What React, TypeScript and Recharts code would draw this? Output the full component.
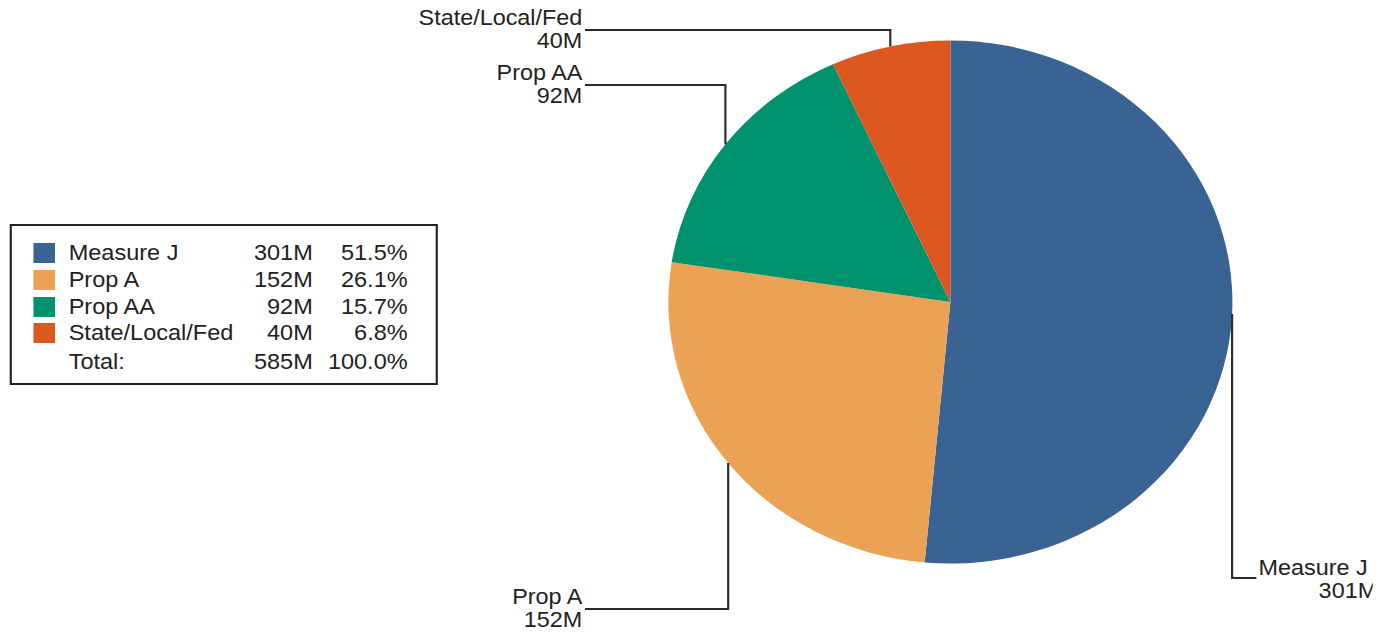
import React from 'react'
import { PieChart, Pie, Cell } from 'recharts'

// values (millions)
const categories = ['Measure J', 'Prop A', 'Prop AA', 'State/Local/Fed']
const amounts = [301, 152, 92, 40]
const amountLabels = ['301M', '152M', '92M', '40M']
const shareLabels = ['51.5%', '26.1%', '15.7%', '6.8%']
const totalLabel = '585M'
const totalShare = '100.0%'
const colors = ['#386392', '#eca254', '#00916e', '#dd5820']

const data = categories.map((name, i) => ({ name, value: amounts[i] }))

// the reference image is stretched horizontally, so the whole chart is drawn narrower and scaled
const STRETCH = 1.0784
const FONT = "'Liberation Sans', Arial, Helvetica, sans-serif"
const RADIAN = Math.PI / 180
const LABEL_SIZE = 21.7

// y of the elbow for each leader line, and which side the label sits on
const leaderY = [578, 609, 85, 30]
const leaderSide = ['right', 'left', 'left', 'left']
const LEFT_END = 542.5
const RIGHT_END = 1165

const renderLabel = (props: any) => {
  const { cx, cy, midAngle, outerRadius, index } = props
  const x = cx + outerRadius * Math.cos(-midAngle * RADIAN)
  const y = cy + outerRadius * Math.sin(-midAngle * RADIAN)
  const ly = leaderY[index]
  const left = leaderSide[index] === 'left'
  const endX = left ? LEFT_END : RIGHT_END

  return (
    <g>
      <polyline
        points={`${x},${y} ${x},${ly} ${endX},${ly}`}
        fill="none"
        stroke="#2a2a2a"
        strokeWidth={2}
      />
      {left ? (
        <>
          <text x={540} y={ly - 4.5} textAnchor="end" fontSize={LABEL_SIZE} fontFamily={FONT} fill="#222">
            {categories[index]}
          </text>
          <text x={540} y={ly + 18.5} textAnchor="end" fontSize={LABEL_SIZE} fontFamily={FONT} fill="#222">
            {amountLabels[index]}
          </text>
        </>
      ) : (
        <>
          <text x={1167} y={ly - 2.5} textAnchor="start" fontSize={LABEL_SIZE} fontFamily={FONT} fill="#222">
            {categories[index]}
          </text>
          <text x={1277} y={ly + 20} textAnchor="end" fontSize={LABEL_SIZE} fontFamily={FONT} fill="#222">
            {amountLabels[index]}
          </text>
        </>
      )}
    </g>
  )
}

const rowCenters = [29.3, 56, 82.7, 109.3, 137.7]

const LegendBox = () => {
  const text: React.CSSProperties = {
    position: 'absolute',
    fontFamily: FONT,
    fontSize: 21.8,
    lineHeight: '26px',
    height: 26,
    color: '#222',
    whiteSpace: 'nowrap'
  }
  const rows = categories.map((name, i) => ({
    name,
    amount: amountLabels[i],
    share: shareLabels[i],
    color: colors[i] as string | null
  }))
  rows.push({ name: 'Total:', amount: totalLabel, share: totalShare, color: null })

  return (
    <div
      style={{
        position: 'absolute',
        left: 9,
        top: 224,
        width: 397,
        height: 161,
        border: '2px solid #222',
        boxSizing: 'border-box',
        background: '#fff'
      }}
    >
      {rows.map((r, i) => {
        const top = rowCenters[i] - 13 - 2
        return (
          <React.Fragment key={r.name}>
            {r.color && (
              <div
                style={{
                  position: 'absolute',
                  left: 19.5,
                  top: rowCenters[i] - 10 - 2,
                  width: 20,
                  height: 20,
                  background: r.color
                }}
              />
            )}
            <span style={{ ...text, left: 52.7, top }}>{r.name}</span>
            <span style={{ ...text, right: 395 - 281, top }}>{r.amount}</span>
            <span style={{ ...text, right: 395 - 369, top }}>{r.share}</span>
          </React.Fragment>
        )
      })}
    </div>
  )
}

export default function App() {
  return (
    <div
      style={{
        position: 'absolute',
        left: 0,
        top: 0,
        width: 1384,
        height: 634,
        overflow: 'hidden',
        background: '#fff'
      }}
    >
      <div
        style={{
          position: 'relative',
          width: 1273,
          height: 634,
          overflow: 'hidden',
          transform: `scaleX(${STRETCH})`,
          transformOrigin: '0 0'
        }}
      >
        <PieChart width={1273} height={634} margin={{ top: 0, right: 0, bottom: 0, left: 0 }}>
          <Pie
            data={data}
            dataKey="value"
            nameKey="name"
            cx={881.3}
            cy={302}
            outerRadius={261.5}
            startAngle={90}
            endAngle={-270}
            stroke="none"
            label={renderLabel}
            labelLine={false}
            isAnimationActive={false}
          >
            {data.map((d, i) => (
              <Cell key={d.name} fill={colors[i]} />
            ))}
          </Pie>
        </PieChart>
        <LegendBox />
      </div>
    </div>
  )
}
